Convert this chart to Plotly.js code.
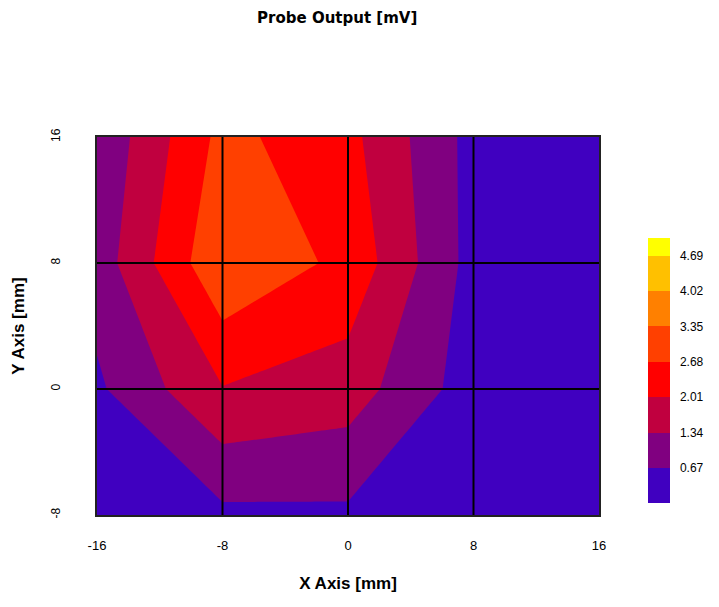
<!DOCTYPE html>
<html><head><meta charset="utf-8">
<script src="https://cdn.plot.ly/plotly-3.0.1.min.js"></script>
<style>html,body{margin:0;padding:0;background:#fff}</style>
</head><body>
<div id="chart" style="width:719px;height:607px"></div>
<script>
// grid coordinates (mm)
const xValues = [-16, -8, 0, 8, 16];
const yValues = [-8, 0, 8, 16];
// probe output (mV), one row per y value
const zAtYm8 = [0.30, 0.52, 0.55, 0.25, 0.20];
const zAtY0  = [0.56, 1.98, 1.68, 0.34, 0.25];
const zAtY8  = [0.97, 3.27, 2.50, 0.42, 0.30];
const zAtY16 = [0.79, 2.88, 2.21, 0.44, 0.30];
// contour levels and band colours
const levelValues = [0.67, 1.34, 2.01, 2.68, 3.35, 4.02, 4.69];
const levelLabels = ['0.67', '1.34', '2.01', '2.68', '3.35', '4.02', '4.69'];
const bandColors = ['#4000c0', '#800080', '#c0003f', '#ff0000', '#ff4000', '#ff8000', '#ffc000', '#ffff00'];
const xTickLabels = ['-16', '-8', '0', '8', '16'];
const yTickLabels = ['-8', '0', '8', '16'];

const step = levelValues[1] - levelValues[0];
const start = levelValues[0] - step; // extra level below the data so the lowest band is full height
const nLevels = levelValues.length + 1;
// colour stops at band midpoints; the band below "start" is blank (never present in data)
const colorscale = [[0, '#ffffff']];
bandColors.forEach((c, i) => colorscale.push([(i + 1) / nLevels, c]));

const trace = {
  type: 'contour',
  x: xValues,
  y: yValues,
  z: [zAtYm8, zAtY0, zAtY8, zAtY16],
  autocontour: false,
  contours: {start: start, end: levelValues[levelValues.length - 1], size: step, coloring: 'fill', showlines: false},
  line: {width: 0, smoothing: 0},
  colorscale: colorscale,
  hoverinfo: 'skip',
  colorbar: {
    tickvals: levelValues,
    ticktext: levelLabels,
    tickfont: {family: 'Liberation Sans, Arial, sans-serif', size: 12, color: '#000'},
    ticks: 'outside', ticklen: 8, tickcolor: 'rgba(0,0,0,0)',
    outlinewidth: 0,
    thicknessmode: 'pixels', thickness: 22,
    lenmode: 'pixels', len: 283,
    x: 1.0976, xanchor: 'left', xpad: 0,
    y: 0.3585, yanchor: 'middle', ypad: 0
  }
};

const gridShapes = [];
xValues.slice(1, -1).forEach(v => gridShapes.push({type: 'line', xref: 'x', yref: 'paper', x0: v, x1: v, y0: 0, y1: 1, line: {color: '#000', width: 2}, layer: 'above'}));
yValues.slice(1, -1).forEach(v => gridShapes.push({type: 'line', xref: 'paper', yref: 'y', x0: 0, x1: 1, y0: v, y1: v, line: {color: '#000', width: 2}, layer: 'above'}));

const layout = {
  width: 719, height: 607,
  paper_bgcolor: '#fff', plot_bgcolor: '#fff',
  margin: {l: 97, r: 120, t: 137, b: 92, pad: 0},
  title: {text: 'Probe Output [mV]', font: {family: 'DejaVu Sans, Verdana, sans-serif', size: 15, color: '#000', weight: 'bold'}, x: 0.469, xanchor: 'center', xref: 'container', y: 0.97, yanchor: 'middle', yref: 'container'},
  xaxis: {
    range: [-16, 16], tickvals: xValues, ticktext: xTickLabels,
    showgrid: false, zeroline: false, showline: true, mirror: true, linecolor: '#222', linewidth: 2,
    ticks: '', ticklabelstandoff: 17,
    tickfont: {family: 'Liberation Sans Narrow, Arial Narrow, Liberation Sans, sans-serif', size: 13, color: '#000'},
    automargin: false,
    title: {text: 'X Axis [mm]', font: {family: 'Liberation Sans Narrow, Arial Narrow, Liberation Sans, sans-serif', size: 17, color: '#000', weight: 'bold'}, standoff: 26}
  },
  yaxis: {
    range: [-8, 16], tickvals: yValues, ticktext: yTickLabels, tickangle: -90,
    showgrid: false, zeroline: false, showline: true, mirror: true, linecolor: '#222', linewidth: 2,
    ticks: '', ticklabelstandoff: 30,
    tickfont: {family: 'Liberation Sans Narrow, Arial Narrow, Liberation Sans, sans-serif', size: 12, color: '#000'},
    automargin: false,
    title: {text: 'Y Axis [mm]', font: {family: 'Liberation Sans Narrow, Arial Narrow, Liberation Sans, sans-serif', size: 17, color: '#000', weight: 'bold'}, standoff: 20}
  },
  shapes: gridShapes,
  showlegend: false
};

Plotly.newPlot('chart', [trace], layout, {staticPlot: true, displayModeBar: false});
</script>
</body></html>
